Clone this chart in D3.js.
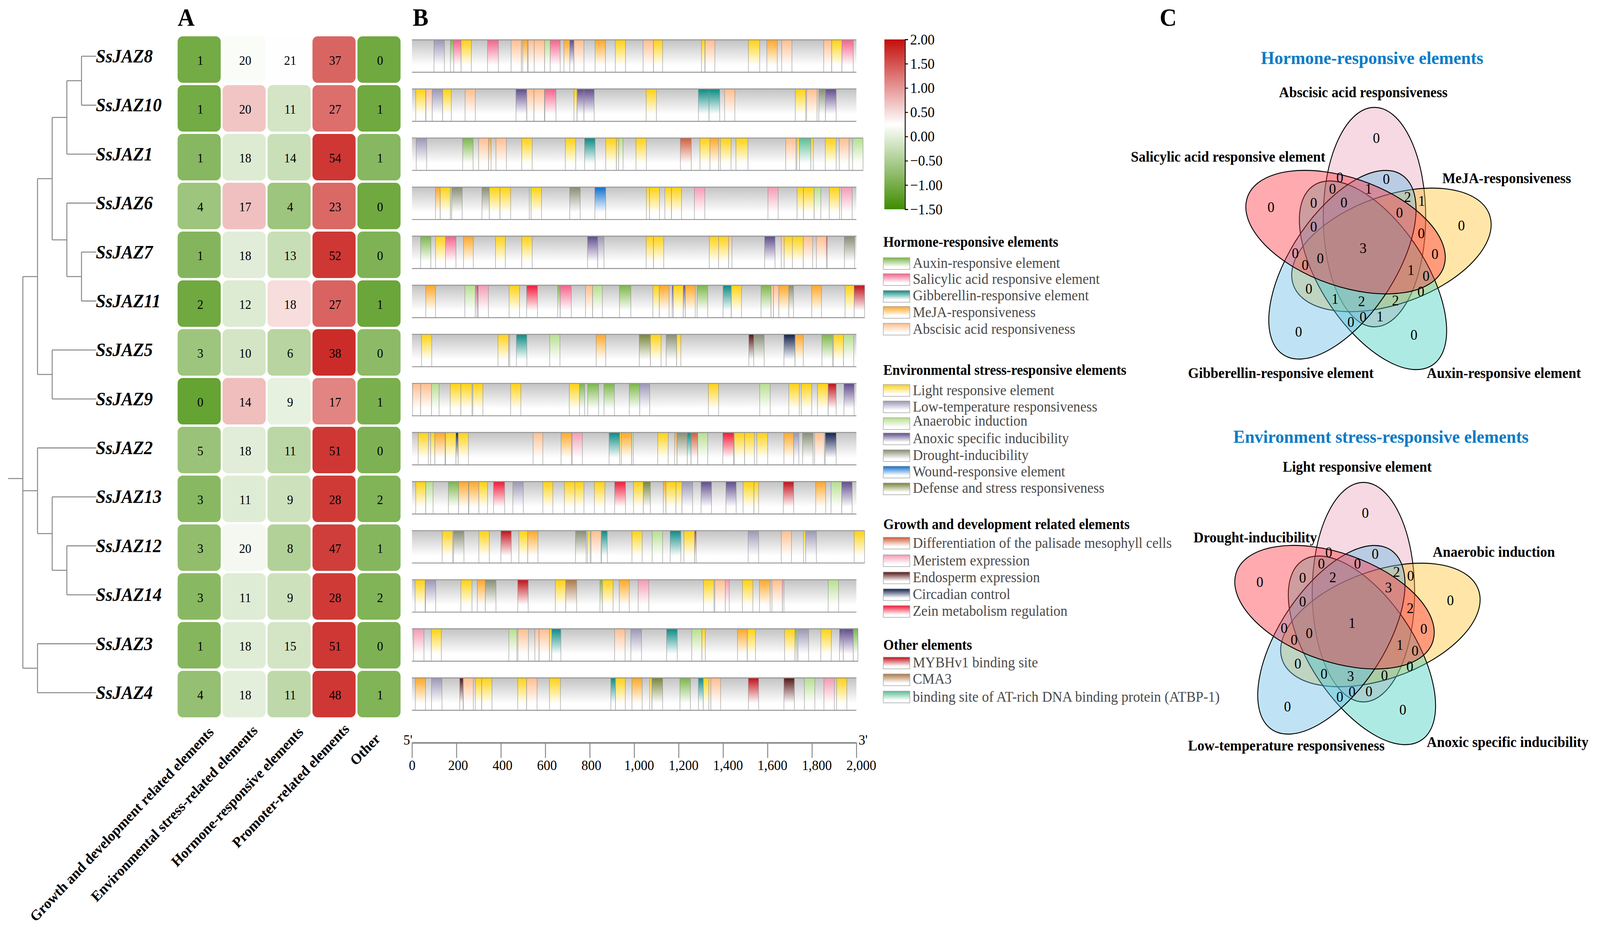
<!DOCTYPE html>
<html><head><meta charset="utf-8">
<style>html,body{margin:0;padding:0;background:#fff;overflow:hidden}svg{display:block;width:100vw;height:100vh}text{font-family:"Liberation Serif","Times New Roman",serif}</style>
<script src="https://cdn.jsdelivr.net/npm/d3@7/dist/d3.min.js"></script>
</head><body><svg id="c" viewBox="0 0 4342 2374" preserveAspectRatio="none"></svg>
<script>
// ---------- DATA ----------
const genes = ["SsJAZ8","SsJAZ10","SsJAZ1","SsJAZ6","SsJAZ7","SsJAZ11","SsJAZ5","SsJAZ9","SsJAZ2","SsJAZ13","SsJAZ12","SsJAZ14","SsJAZ3","SsJAZ4"];
const heatCategories = ["Growth and development related elements","Environmental stress-related elements","Hormone-responsive elements","Promoter-related elements","Other"];
const heatCounts = [[1,20,21,37,0],[1,20,11,27,1],[1,18,14,54,1],[4,17,4,23,0],[1,18,13,52,0],[2,12,18,27,1],[3,10,6,38,0],[0,14,9,17,1],[5,18,11,51,0],[3,11,9,28,2],[3,20,8,47,1],[3,11,9,28,2],[1,18,15,51,0],[4,18,11,48,1]];
const heatLevels = [[-1.03,0.2,0.26,1.37,-1.06],[-1.03,0.67,-0.15,1.3,-1.06],[-0.84,-0.06,-0.24,1.7,-0.84],[-0.64,0.71,-0.64,1.35,-1.06],[-0.87,-0.02,-0.25,1.7,-0.92],[-1.06,-0.06,0.5,1.38,-1.1],[-0.64,-0.15,-0.4,1.78,-0.8],[-1.15,0.72,0.03,1.14,-0.97],[-0.67,-0.02,-0.36,1.7,-0.93],[-0.83,-0.04,-0.2,1.68,-0.9],[-0.75,0.15,-0.45,1.65,-0.86],[-0.83,-0.04,-0.2,1.68,-0.9],[-0.86,-0.03,-0.15,1.7,-0.93],[-0.72,0,-0.34,1.7,-0.9]];
const colorbarTicks = [2,1.5,1,0.5,0,-0.5,-1,-1.5];
const geneTree = [[[[["SsJAZ8","SsJAZ10"],"SsJAZ1"],["SsJAZ6",["SsJAZ7","SsJAZ11"]]],["SsJAZ5","SsJAZ9"]],["SsJAZ2",["SsJAZ13",["SsJAZ12","SsJAZ14"]]],["SsJAZ3","SsJAZ4"]];
const geneLengths = [2000,2000,2030,2000,2000,2037,2000,2000,2000,2000,2037,2000,2007,2000];
const axisTicks = [0,200,400,600,800,1000,1200,1400,1600,1800,2000];

const elemJAZ8 = [["low",99,146],["aux",173,188],["sal",188,221],["lig",221,267],["sal",340,389],["aba",446,492],["mej",498,520],["aba",523,550],["aba",550,597],["ana",597,622],["sal",622,667],["mej",684,710],["ano",710,729],["aba",729,774],["mej",824,871],["lig",915,961],["aba",1040,1087],["lig",1087,1128],["lig",1303,1318],["aba",1319,1363],["lig",1514,1565],["mej",1597,1644],["aba",1664,1710],["aba",1853,1889],["lig",1889,1935],["sal",1935,1986]];
const elemJAZ10 = [["lig",17,62],["aba",63,91],["low",91,138],["lig",138,177],["aba",239,285],["ano",468,516],["aba",517,549],["aba",549,596],["sal",598,648],["lig",729,743],["ano",743,774],["ano",774,820],["lig",1054,1100],["gib",1289,1337],["gib",1337,1385],["aba",1407,1453],["lig",1725,1772],["aba",1776,1823],["dro",1831,1861],["ano",1861,1909]];
const elemJAZ1 = [["low",19,66],["aux",228,275],["aba",300,345],["mej",345,356],["aba",378,425],["lig",494,541],["lig",690,737],["gib",777,824],["lig",872,920],["lig",920,930],["ana",930,950],["lig",1008,1055],["dif",1208,1257],["lig",1296,1341],["mej",1341,1380],["lig",1388,1436],["lig",1458,1512],["aba",1682,1728],["lig",1732,1744],["atb",1744,1795],["lig",1795,1806],["lig",1860,1909],["aba",1923,1967],["ana",1983,2030]];
const elemJAZ6 = [["mej",106,127],["lig",127,173],["ana",173,179],["dro",179,226],["dro",315,348],["lig",348,396],["lig",396,444],["ana",528,536],["lig",536,583],["dro",710,757],["wou",823,872],["lig",1055,1069],["lig",1069,1114],["lig",1138,1168],["lig",1168,1213],["mer",1271,1318],["mer",1602,1648],["lig",1733,1762],["lig",1762,1810],["ana",1810,1840],["lig",1878,1924],["mer",1933,1981]];
const elemJAZ7 = [["aux",39,85],["lig",106,151],["sal",151,198],["mej",232,276],["lig",376,420],["lig",494,541],["ano",790,836],["low",836,864],["lig",1054,1087],["lig",1087,1133],["lig",1338,1380],["lig",1380,1425],["aba",1425,1440],["ano",1587,1634],["aba",1662,1675],["lig",1675,1712],["lig",1712,1761],["aba",1761,1803],["aba",1820,1865],["zei",1865,1869],["dro",1946,1992]];
const elemJAZ11 = [["mej",62,106],["ana",238,285],["sal",285,293],["ano",293,298],["mer",298,344],["lig",437,484],["zei",516,565],["aux",656,667],["sal",667,717],["aba",781,813],["ana",813,857],["aux",934,985],["lig",1084,1113],["mej",1113,1157],["ano",1171,1176],["lig",1176,1221],["ano",1221,1230],["mej",1230,1275],["aux",1283,1331],["gib",1400,1437],["lig",1437,1483],["aux",1571,1616],["aba",1616,1627],["aba",1627,1651],["mej",1651,1696],["dro",1696,1717],["mej",1799,1843],["lig",1949,1990],["myb",1990,2037]];
const elemJAZ5 = [["lig",43,89],["lig",387,435],["mer",435,440],["gib",470,517],["ana",620,666],["mej",829,872],["def",1023,1073],["lig",1073,1121],["dro",1144,1191],["lig",1191,1210],["end",1516,1538],["dro",1538,1585],["cir",1674,1724],["mej",1724,1761],["aux",1845,1893],["lig",1897,1942],["ana",1942,1988]];
const elemJAZ9 = [["aba",3,39],["aba",39,88],["ana",88,122],["lig",172,220],["lig",220,270],["lig",274,319],["lig",444,490],["lig",708,754],["aux",754,777],["aux",791,840],["aux",864,911],["aux",978,1025],["low",1025,1070],["lig",1334,1380],["ana",1565,1612],["lig",1696,1743],["lig",1752,1799],["lig",1825,1873],["myb",1873,1909],["ano",1944,1990]];
const elemJAZ2 = [["lig",28,74],["lig",84,103],["mej",103,149],["lig",151,198],["cir",198,208],["lig",208,254],["aba",545,589],["mej",671,718],["mer",721,767],["gib",887,935],["lig",935,942],["mej",942,989],["ana",989,996],["lig",1106,1153],["mej",1182,1193],["dro",1193,1239],["gib",1239,1256],["dif",1256,1286],["ana",1286,1331],["zei",1399,1448],["lig",1450,1497],["lig",1497,1541],["lig",1552,1601],["mej",1674,1718],["low",1718,1741],["dro",1758,1805],["aba",1812,1856],["cir",1860,1909]];
const elemJAZ13 = [["lig",17,62],["ana",62,95],["aux",164,210],["mej",210,254],["mej",256,301],["lig",301,340],["zei",367,417],["low",454,501],["lig",589,634],["lig",686,733],["lig",733,774],["lig",821,868],["zei",912,961],["lig",997,1041],["def",1041,1073],["mej",1131,1143],["lig",1143,1188],["lig",1188,1215],["low",1215,1263],["ano",1301,1348],["ano",1413,1459],["lig",1490,1539],["lig",1539,1560],["myb",1671,1718],["mej",1817,1862],["ana",1886,1934],["ano",1934,1981]];
const elemJAZ12 = [["lig",136,183],["dro",187,234],["lig",301,348],["myb",400,447],["lig",481,521],["mej",521,567],["dro",736,784],["lig",790,802],["aba",806,851],["gib",853,879],["lig",990,1036],["ana",1081,1128],["gib",1162,1210],["lig",1224,1272],["zei",1272,1279],["low",1513,1560],["aba",1662,1708],["lig",1762,1772],["low",1772,1820],["lig",1990,2037]];
const elemJAZ14 = [["lig",14,59],["low",61,107],["lig",220,270],["mej",294,330],["dro",330,378],["myb",476,523],["lig",645,692],["cma",692,741],["aux",846,857],["lig",857,905],["mej",933,978],["mer",1018,1066],["lig",1312,1359],["aba",1363,1410],["mer",1410,1428],["lig",1487,1534],["mej",1564,1612],["aba",1620,1667],["mer",1667,1674],["ana",1873,1920]];
const elemJAZ3 = [["mer",7,54],["lig",87,132],["ana",436,472],["aba",477,524],["aba",553,572],["aba",572,619],["lig",619,629],["gib",629,670],["aba",912,959],["low",985,1033],["gib",1146,1194],["ana",1259,1305],["lig",1305,1320],["mej",1465,1509],["lig",1509,1546],["lig",1677,1724],["aux",1724,1732],["low",1737,1785],["lig",1840,1887],["ano",1924,1941],["ano",1941,1986],["aux",1986,2007]];
const elemJAZ4 = [["mej",15,61],["low",88,135],["end",215,230],["aba",231,276],["lig",285,314],["lig",314,360],["lig",476,516],["aba",516,563],["lig",619,668],["gib",895,916],["lig",916,960],["mej",990,1036],["lig",1070,1080],["def",1080,1128],["aux",1206,1253],["gib",1289,1311],["lig",1311,1336],["aba",1336,1345],["aba",1345,1389],["myb",1514,1560],["end",1674,1721],["ana",1766,1813],["mer",1854,1901],["lig",1911,1957]];
const geneElements = [elemJAZ8,elemJAZ10,elemJAZ1,elemJAZ6,elemJAZ7,elemJAZ11,elemJAZ5,elemJAZ9,elemJAZ2,elemJAZ13,elemJAZ12,elemJAZ14,elemJAZ3,elemJAZ4];

const elementColors = {aux:"#7ab648",sal:"#f4628a",gib:"#0a8a82",mej:"#ffa726",aba:"#ffbd8e",lig:"#ffd10f",low:"#9a96b5",ana:"#b6de8e",ano:"#5f4a8b",dro:"#868d74",wou:"#0f6fcf",def:"#77843a",dif:"#cf5c3a",mer:"#f49ab2",end:"#551414",cir:"#10204d",zei:"#f01838",myb:"#c00f18",cma:"#ac7845",atb:"#5cbd94"};

const legendHormone = [["aux","Auxin-responsive element"],["sal","Salicylic acid responsive element"],["gib","Gibberellin-responsive element"],["mej","MeJA-responsiveness"],["aba","Abscisic acid responsiveness"]];
const legendEnvironment = [["lig","Light responsive element"],["low","Low-temperature responsiveness"],["ana","Anaerobic induction"],["ano","Anoxic specific inducibility"],["dro","Drought-inducibility"],["wou","Wound-responsive element"],["def","Defense and stress responsiveness"]];
const legendGrowth = [["dif","Differentiation of the palisade mesophyll cells"],["mer","Meristem expression"],["end","Endosperm expression"],["cir","Circadian control"],["zei","Zein metabolism regulation"]];
const legendOther = [["myb","MYBHv1 binding site"],["cma","CMA3"],["atb","binding site of AT-rich DNA binding protein (ATBP-1)"]];

const vennHormoneSets = ["Abscisic acid responsiveness","MeJA-responsiveness","Auxin-responsive element","Gibberellin-responsive element","Salicylic acid responsive element"];
const vennEnvironmentSets = ["Light responsive element","Anaerobic induction","Anoxic specific inducibility","Low-temperature responsiveness","Drought-inducibility"];
const vennHormoneValues = [0,0,0,0,0,0,0,0,1,2,1,0,0,0,0,0,0,3,0,0,0,1,0,0,0,1,2,2,0,0,1];
const vennEnvironmentValues = [0,0,0,0,0,0,0,0,0,2,0,0,2,3,0,2,0,1,0,0,0,1,0,0,0,0,3,0,0,0,0];

// ---------- LAYOUT ----------
const svg = d3.select("#c");
const serif = '"Liberation Serif","Times New Roman",serif';
const defs = svg.append("defs");
function grad(id, color){
  const g = defs.append("linearGradient").attr("id",id).attr("x1",0).attr("y1",0).attr("x2",0).attr("y2",1);
  g.append("stop").attr("offset","0%").attr("stop-color",color);
  g.append("stop").attr("offset","78%").attr("stop-color","#fff");
  g.append("stop").attr("offset","100%").attr("stop-color","#fff");
}
Object.entries(elementColors).forEach(([k,c])=>grad("g_"+k,c));
grad("g_bg","#c3c3c3");

// panel letters
[["A",482],["B",1120],["C",3147]].forEach(([t,x])=>svg.append("text").text(t).attr("x",x).attr("y",66).attr("font-size",64).attr("font-weight","bold"));

// --- tree
const tipY = d3.scalePoint().domain(genes).range([144,1774]);
const treeX = d => 62 + 39.8*d;
const root = d3.hierarchy(geneTree, d=>Array.isArray(d)?d:null);
root.eachAfter(n=>{ n.py = n.children ? d3.mean(n.children,c=>c.py) : tipY(n.data); n.px = n.children ? treeX(n.depth) : 261; });
const tree = svg.append("g").attr("fill","none").attr("stroke","#888").attr("stroke-width",2.6);
root.each(n=>{
  if(n.children){
    tree.append("path").attr("d",d3.line()([[n.px,d3.min(n.children,c=>c.py)],[n.px,d3.max(n.children,c=>c.py)]]));
    n.children.forEach(c=>tree.append("path").attr("d",d3.line()([[n.px,c.py],[c.px,c.py]])));
  }
});
tree.append("path").attr("d",d3.line()([[22,root.py],[root.px,root.py]]));
svg.append("g").selectAll("text").data(genes).join("text").text(d=>d)
  .attr("x",260).attr("y",d=>tipY(d)+16).attr("font-size",48).attr("font-weight","bold").attr("font-style","italic");

// --- heatmap
const heatX = d3.scaleBand().domain(heatCategories).range([482,1087]).paddingInner(5/122);
const heatY = d3.scaleBand().domain(genes).range([93,1837]).paddingInner(6/125);
const heatColor = d3.scaleLinear().domain([-1.5,0.25,2]).range(["#3f8c00","#ffffff","#c40e0a"]);
const heat = svg.append("g");
genes.forEach((g,i)=>heatCategories.forEach((c,j)=>{
  heat.append("rect").attr("x",heatX(c)).attr("y",heatY(g)).attr("width",heatX.bandwidth()).attr("height",heatY.bandwidth())
    .attr("rx",14).attr("fill",heatColor(heatLevels[i][j]));
  heat.append("text").text(heatCounts[i][j]).attr("x",heatX(c)+heatX.bandwidth()/2+3).attr("y",heatY(g)+heatY.bandwidth()/2+14)
    .attr("text-anchor","middle").attr("font-size",33);
}));
const catEnd = [[580,1859],[699,1855],[823,1859],[948,1851],[1032,1876]];
heatCategories.forEach((c,j)=>svg.append("text").text(c).attr("text-anchor","end").attr("font-size",38).attr("font-weight","bold")
  .attr("transform",`translate(${catEnd[j][0]+2},${catEnd[j][1]+18}) rotate(-45)`));

// --- gene structure
const posX = d3.scaleLinear().domain([0,2000]).range([1118,2324]);
const barY = d3.scalePoint().domain(genes).range([102,1736]);
const barH = 83;
const bars = svg.append("g");
genes.forEach((g,i)=>{
  const y = barY(g), G = bars.append("g");
  G.append("rect").attr("x",posX(0)).attr("y",y).attr("width",posX(geneLengths[i])-posX(0)).attr("height",barH).attr("fill","url(#g_bg)");
  geneElements[i].forEach(([t,a,b])=>{
    G.append("rect").attr("x",posX(a)).attr("y",y).attr("width",posX(b)-posX(a)).attr("height",barH).attr("fill",`url(#g_${t})`);
    [a,b].forEach(v=>G.append("line").attr("x1",posX(v)).attr("x2",posX(v)).attr("y1",y).attr("y2",y+barH).attr("stroke","#8c8c8c").attr("stroke-width",1.1));
  });
  [y,y+barH].forEach(v=>G.append("line").attr("x1",posX(0)).attr("x2",posX(geneLengths[i])).attr("y1",v).attr("y2",v).attr("stroke","#949494").attr("stroke-width",2.4));
});
const ax = svg.append("g").attr("transform","translate(0,1902)").call(d3.axisBottom(posX).tickValues(axisTicks).tickSize(39).tickSizeOuter(0).tickFormat(d3.format(",")));
ax.selectAll("path,line").attr("stroke","#888").attr("stroke-width",2.6);
ax.select("path.domain").attr("stroke-width",4);
ax.selectAll("text").attr("font-family",serif).attr("font-size",36).attr("fill","#000").attr("y",44).attr("dy","0.71em").attr("dx",d=>d==0?0:d<1000?4:13);
svg.append("text").text("5'").attr("x",1107).attr("y",1907).attr("text-anchor","middle").attr("font-size",36);
svg.append("text").text("3'").attr("x",2330).attr("y",1907).attr("font-size",36);

// --- colorbar
const cbY = d3.scaleLinear().domain([2,-1.5]).range([101,536]);
const cb = defs.append("linearGradient").attr("id","cbar").attr("x1",0).attr("y1",0).attr("x2",0).attr("y2",1);
[2,0.25,-1.5].forEach(v=>cb.append("stop").attr("offset",(cbY(v)-101)/435).attr("stop-color",heatColor(v)));
svg.append("rect").attr("x",2400).attr("y",101).attr("width",55).attr("height",435).attr("fill","url(#cbar)");
const cax = svg.append("g").attr("transform","translate(2456,0)").call(d3.axisRight(cbY).tickValues(colorbarTicks).tickSize(8).tickFormat(d3.format(".2f")));
cax.selectAll("path,line").attr("stroke","#000").attr("stroke-width",2.4);
cax.selectAll("text").attr("font-family",serif).attr("font-size",38).attr("fill","#000").attr("x",14);

// --- legends
function legend(title,titleY,items,tops,bases){
  svg.append("text").text(title).attr("x",2397).attr("y",titleY).attr("font-size",37).attr("font-weight","bold");
  items.forEach(([k,label],i)=>{
    svg.append("rect").attr("x",2397).attr("y",tops[i]).attr("width",72).attr("height",30).attr("fill",`url(#g_${k})`).attr("stroke","#999").attr("stroke-width",1.3);
    svg.append("text").text(label).attr("x",2477).attr("y",bases[i]).attr("font-size",38).attr("fill","#4a4a4a");
  });
}
legend("Hormone-responsive elements",632,legendHormone,[660,701,744,785,828],[686,727.5,769,812,855]);
legend("Environmental stress-responsive elements",960,legendEnvironment,[985,1027,1070,1109,1152,1194,1237],[1012,1054,1090,1135,1178,1220,1262]);
legend("Growth and development related elements",1355,legendGrowth,[1376,1421,1465,1508,1551],[1403,1448,1491,1534,1577]);
legend("Other elements",1664,legendOther,[1683,1726,1770],[1709,1751,1797]);

// --- venn
const petals = [
  {c:[3730,556], a:0,   f:"#e8a0b6"},
  {c:[3776,640], a:72,  f:"#ffc025"},
  {c:[3726,705], a:144, f:"#34cabc"},
  {c:[3643,678], a:216, f:"#5fb9e6"},
  {c:[3651.5,594.5], a:288, f:"#ff2a36"}
];
const regionSpots = [[3735,353],[3449,530],[3966,577],[3524,849],[3837,857],[3636,454],[3762,458],[3616,483],[3714,483],[3820,504],[3858,514],[3565,519],[3647,518],[3798,544],[3565,580],[3857,597],[3894,650],[3699,635],[3515,648],[3583,661],[3542,678],[3829,691],[3870,706],[3856,746],[3552,739],[3623,765],[3695,771],[3787,769],[3666,824],[3699,811],[3745,810]];
function venn(dx,dy,title,titlePos,labels,labelPos,values){
  const g = svg.append("g").attr("transform",`translate(${dx},${dy})`);
  petals.forEach(p=>{
    g.append("ellipse").attr("rx",139).attr("ry",281).attr("transform",`translate(${p.c[0]},${p.c[1]}) rotate(${p.a})`)
      .attr("fill",p.f).attr("fill-opacity",0.4).attr("stroke","#000").attr("stroke-width",2.4);
  });
  values.forEach((v,i)=>g.append("text").text(v).attr("x",regionSpots[i][0]).attr("y",regionSpots[i][1]+13).attr("text-anchor","middle").attr("font-size",38));
  svg.append("text").text(title).attr("x",titlePos[0]).attr("y",titlePos[1]).attr("font-size",47).attr("font-weight","bold").attr("fill","#0b7bc6");
  labels.forEach((t,i)=>svg.append("text").text(t).attr("x",labelPos[i][0]).attr("y",labelPos[i][1]).attr("font-size",38).attr("font-weight","bold"));
}
venn(0,0,"Hormone-responsive elements",[3422,164],vennHormoneSets,[[3471,249],[3914,469],[3872,968],[3224,968],[3069,414]],vennHormoneValues);
venn(-30,960.5,"Environment stress-responsive elements",[3347,1134],vennEnvironmentSets,[[3481,1208],[3888,1426],[3872,1913],[3224,1922],[3239,1389]],vennEnvironmentValues);
</script></body></html>
